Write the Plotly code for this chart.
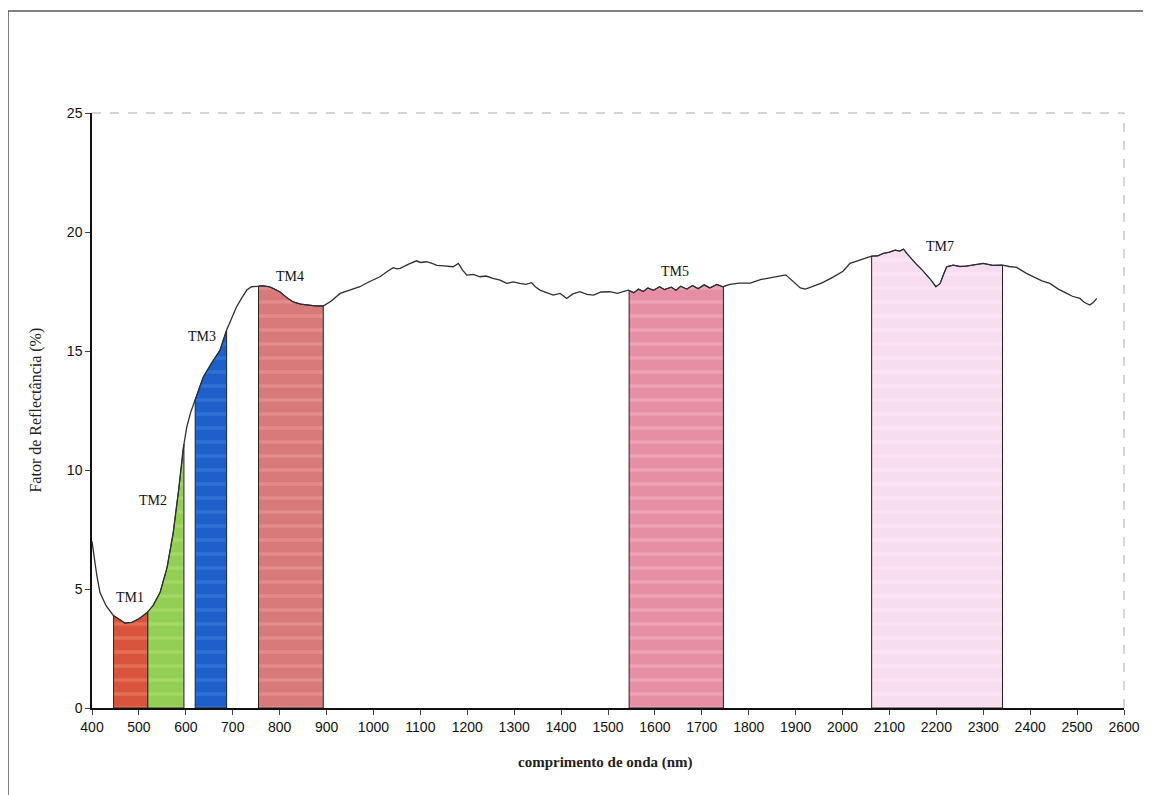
import numpy as np
import plotly.graph_objects as go

# ---- data ----
wavelength = [400, 410, 417, 430, 445, 460, 470, 485, 500, 517, 530, 545, 560, 573, 585, 594,
              602, 610, 620, 637, 655, 673, 687, 698, 708, 720, 730, 740, 751, 765, 779, 790,
              801, 815, 829, 845, 858, 875, 893, 910, 929, 950, 971, 990, 1014, 1030, 1042, 1050,
              1057, 1075, 1092, 1100, 1113, 1125, 1135, 1150, 1170, 1181, 1190, 1199, 1213, 1227,
              1240, 1255, 1270, 1284, 1298, 1312, 1325, 1337, 1345, 1355, 1370, 1383, 1398, 1412,
              1425, 1440, 1455, 1469, 1485, 1504, 1520, 1543, 1555, 1565, 1575, 1585, 1597, 1610,
              1620, 1635, 1645, 1655, 1668, 1680, 1692, 1705, 1717, 1732, 1745, 1760, 1780, 1803,
              1825, 1848, 1865, 1879, 1890, 1898, 1910, 1921, 1935, 1955, 1975, 2001, 2016, 2035,
              2050, 2062, 2075, 2087, 2100, 2112, 2122, 2130, 2137, 2148, 2159, 2170, 2180, 2190,
              2199, 2208, 2215, 2222, 2236, 2250, 2264, 2280, 2300, 2320, 2341, 2355, 2371, 2392,
              2410, 2425, 2442, 2460, 2478, 2490, 2506, 2515, 2527, 2535, 2542]
reflectance = [7.0, 5.6, 4.85, 4.3, 3.9, 3.7, 3.57, 3.6, 3.75, 4.0, 4.3, 4.85, 5.9, 7.35, 9.2, 10.84,
               11.8, 12.4, 12.94, 13.9, 14.5, 15.04, 15.88, 16.4, 16.85, 17.25, 17.56, 17.7, 17.73, 17.74, 17.69, 17.6,
               17.48, 17.25, 17.06, 16.97, 16.93, 16.9, 16.89, 17.1, 17.42, 17.55, 17.7, 17.9, 18.12, 18.35, 18.5, 18.45,
               18.47, 18.65, 18.79, 18.72, 18.75, 18.68, 18.6, 18.58, 18.54, 18.68, 18.4, 18.19, 18.22, 18.12,
               18.15, 18.05, 17.98, 17.84, 17.9, 17.84, 17.8, 17.87, 17.7, 17.56, 17.45, 17.35, 17.42, 17.21,
               17.4, 17.49, 17.38, 17.35, 17.48, 17.49, 17.42, 17.56, 17.45, 17.6, 17.5, 17.65, 17.55, 17.7,
               17.58, 17.68, 17.55, 17.72, 17.6, 17.75, 17.62, 17.78, 17.65, 17.8, 17.7, 17.8, 17.85, 17.85,
               18.0, 18.1, 18.15, 18.2, 18.0, 17.85, 17.65, 17.6, 17.7, 17.85, 18.05, 18.35, 18.68, 18.8,
               18.9, 18.99, 19.0, 19.1, 19.15, 19.24, 19.2, 19.28, 19.1, 18.85, 18.61, 18.4, 18.19, 17.95,
               17.7, 17.84, 18.2, 18.54, 18.61, 18.55, 18.57, 18.62, 18.68, 18.6, 18.61, 18.55, 18.51, 18.26,
               18.1, 17.95, 17.84, 17.6, 17.42, 17.3, 17.21, 17.05, 16.93, 17.05, 17.21]

band_names = ["TM1", "TM2", "TM3", "TM4", "TM5", "TM7"]
band_start = [446, 519, 620, 755, 1545, 2062]
band_end = [519, 596, 687, 893, 1746, 2341]
band_colors = ["#d9543c", "#93cf55", "#1f5fc9", "#d97a7a", "#e68ea4", "#f8dcef"]
band_stripes = ["#f08a6e", "#b7e07a", "#3f86e6", "#efa09a", "#f5b6c6", "#fdeef8"]

label_x = [481, 530, 634, 822, 1643, 2208]
label_y = [4.66, 8.7, 15.6, 18.15, 18.36, 19.4]

y_ticks = [0, 5, 10, 15, 20, 25]
x_ticks = list(range(400, 2601, 100))

fig = go.Figure()

wl = np.array(wavelength, dtype=float)
rf = np.array(reflectance, dtype=float)

for name, x0, x1, col, sc in zip(band_names, band_start, band_end, band_colors, band_stripes):
    inner = [w for w in wavelength if x0 < w < x1]
    xs = [x0] + inner + [x1]
    ys = list(np.interp(xs, wl, rf))
    px = [x0] + xs + [x1, x0]
    py = [0] + ys + [0, 0]
    fig.add_trace(go.Scatter(
        x=px, y=py, mode="lines", fill="toself", fillcolor=col,
        fillpattern=dict(shape="-", bgcolor=col, fgcolor=sc, size=14, solidity=0.25),
        line=dict(color="#222222", width=1), hoverinfo="skip", showlegend=False, name=name))

fig.add_trace(go.Scatter(x=wavelength, y=reflectance, mode="lines",
                         line=dict(color="#2b2f36", width=1.3), showlegend=False))

for name, lx, ly in zip(band_names, label_x, label_y):
    fig.add_annotation(x=lx, y=ly, text=name, showarrow=False,
                       font=dict(family="Liberation Serif", size=14, color="#111111"))

fig.add_annotation(xref="paper", yref="paper", x=0.498, y=-0.091, xanchor="center", yanchor="middle",
                   text="<b>comprimento de onda (nm)</b>",
                   showarrow=False, font=dict(family="Liberation Serif", size=15, color="#222222"))
fig.add_annotation(xref="paper", yref="paper", x=-0.0552, y=0.5, xanchor="center", yanchor="middle",
                   text="Fator de Reflectância (%)",
                   textangle=-90, showarrow=False,
                   font=dict(family="Liberation Serif", size=16, color="#222222"))

# outer frame and dashed top/right plot border
fig.add_shape(type="rect", xref="paper", yref="paper", x0=-0.0814, x1=1.1, y0=-0.3, y1=1.1714,
              line=dict(color="#555555", width=1.5), layer="below")
fig.add_shape(type="line", xref="paper", yref="paper", x0=0, x1=1, y0=1, y1=1,
              line=dict(color="#aaaaaa", width=1, dash="dash"))
fig.add_shape(type="line", xref="paper", yref="paper", x0=1, x1=1, y0=0, y1=1,
              line=dict(color="#aaaaaa", width=1, dash="dash"))

fig.update_layout(
    width=1151, height=795,
    margin=dict(l=84, r=35, t=105, b=95),
    paper_bgcolor="white", plot_bgcolor="white",
    xaxis=dict(range=[400, 2600], tickvals=x_ticks, ticks="outside", ticklen=5,
               showline=True, linecolor="#111111", linewidth=1.5, showgrid=False, zeroline=False,
               tickfont=dict(family="Liberation Sans", size=14, color="#111111")),
    yaxis=dict(range=[0, 25], tickvals=y_ticks, ticks="outside", ticklen=5,
               showline=True, linecolor="#111111", linewidth=1.5, showgrid=False, zeroline=False,
               tickfont=dict(family="Liberation Sans", size=14, color="#111111")),
)

fig.write_html("out.html")
